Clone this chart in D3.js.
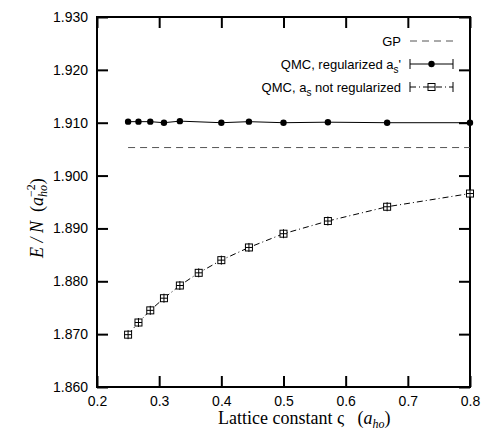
<!DOCTYPE html>
<html>
<head>
<meta charset="utf-8">
<script src="https://cdn.jsdelivr.net/npm/d3@7/dist/d3.min.js"></script>
<style>
  body { margin: 0; background: #fff; }
  text { fill: #000; }
  .tick text { font-family: "Liberation Sans", Arial, sans-serif; font-size: 14px; }
</style>
</head>
<body>
<div id="chart"></div>
<script>
// lattice constant values (a_ho)
var xReg = [0.25, 0.2667, 0.2857, 0.3077, 0.3333, 0.4, 0.4444, 0.5, 0.5714, 0.6667, 0.8]
var yReg = [1.9102, 1.9102, 1.9102, 1.9100, 1.9103, 1.9100, 1.9102, 1.9100, 1.9101, 1.9100, 1.9100]
var xNoReg = [0.25, 0.2667, 0.2857, 0.3077, 0.3333, 0.3636, 0.4, 0.4444, 0.5, 0.5714, 0.6667, 0.8]
var yNoReg = [1.8699, 1.8722, 1.8745, 1.8768, 1.8792, 1.8816, 1.8840, 1.8864, 1.8890, 1.8914, 1.8941, 1.8966]
var gpX = [0.25, 0.8]
var gpY = [1.9053, 1.9053]
var xTicks = [0.2, 0.3, 0.4, 0.5, 0.6, 0.7, 0.8]
var yTicks = [1.860, 1.870, 1.880, 1.890, 1.900, 1.910, 1.920, 1.930]

var width = 487, height = 434
var margin = {top: 17, left: 97, right: 17, bottom: 47}
var w = width - margin.left - margin.right
var h = height - margin.top - margin.bottom

var svg = d3.select("#chart").append("svg")
  .attr("width", width).attr("height", height)
var g = svg.append("g").attr("transform", "translate(" + [margin.left, margin.top] + ")")

var x = d3.scaleLinear().domain([0.2, 0.8]).range([0, w])
var y = d3.scaleLinear().domain([1.860, 1.930]).range([h, 0])

// axes, ticks pointing inward, mirrored on top/right
var xAxis = g.append("g").attr("transform", "translate(0," + h + ")")
  .call(d3.axisBottom(x).tickValues(xTicks).tickFormat(d3.format(".1f")).tickSizeInner(-11).tickSizeOuter(0))
xAxis.selectAll(".tick text").attr("y", 9)
g.append("g")
  .call(d3.axisTop(x).tickValues(xTicks).tickFormat("").tickSizeInner(-11).tickSizeOuter(0))
var yAxis = g.append("g")
  .call(d3.axisLeft(y).tickValues(yTicks).tickFormat(d3.format(".3f")).tickSizeInner(-11).tickSizeOuter(0))
yAxis.selectAll(".tick text").attr("x", -9)
g.append("g").attr("transform", "translate(" + w + ",0)")
  .call(d3.axisRight(y).tickValues(yTicks).tickFormat("").tickSizeInner(-11).tickSizeOuter(0))
g.selectAll(".domain").remove()
g.selectAll(".tick line").attr("stroke", "#000").attr("stroke-width", 2)
g.append("rect").attr("width", w).attr("height", h)
  .attr("fill", "none").attr("stroke", "#000").attr("stroke-width", 2)

var line = d3.line().x(function(d){ return x(d[0]) }).y(function(d){ return y(d[1]) })

// GP
g.append("path").datum(d3.zip(gpX, gpY)).attr("d", line)
  .attr("fill", "none").attr("stroke", "#555").attr("stroke-width", 1).attr("stroke-dasharray", "7,5")

// QMC regularized
var reg = d3.zip(xReg, yReg)
g.append("path").datum(reg).attr("d", line)
  .attr("fill", "none").attr("stroke", "#000").attr("stroke-width", 1)
g.selectAll(".reg").data(reg).enter().append("circle")
  .attr("cx", function(d){ return x(d[0]) }).attr("cy", function(d){ return y(d[1]) })
  .attr("r", 3.2).attr("fill", "#000")

// QMC not regularized
var noreg = d3.zip(xNoReg, yNoReg)
g.append("path").datum(noreg).attr("d", line)
  .attr("fill", "none").attr("stroke", "#000").attr("stroke-width", 1).attr("stroke-dasharray", "6,3,1,3")
var sq = g.selectAll(".noreg").data(noreg).enter().append("g")
  .attr("transform", function(d){ return "translate(" + [x(d[0]), y(d[1])] + ")" })
sq.append("rect").attr("x", -3.5).attr("y", -3.5).attr("width", 7).attr("height", 7)
  .attr("fill", "#fff").attr("stroke", "#000").attr("stroke-width", 1)
sq.append("line").attr("x1", -3.5).attr("x2", 3.5).attr("stroke", "#000").attr("stroke-width", 1)
sq.append("line").attr("y1", -4.5).attr("y2", 4.5).attr("stroke", "#000").attr("stroke-width", 1)

// legend
var legend = svg.append("g").attr("font-family", "Liberation Sans, Arial, sans-serif").attr("font-size", 13)
var lx0 = 410, lx1 = 453
function legText(yy, parts) {
  var t = legend.append("text").attr("x", 401).attr("y", yy + 4.5).attr("text-anchor", "end")
  parts.forEach(function(p){
    var ts = t.append("tspan").text(p.t)
    if (p.sub) ts.attr("font-size", 10).attr("dy", 4)
    if (p.up) ts.attr("dy", -4)
  })
}
legText(41, [{t: "GP"}])
legend.append("line").attr("x1", lx0).attr("x2", lx1).attr("y1", 41).attr("y2", 41)
  .attr("stroke", "#555").attr("stroke-dasharray", "7,5")

legText(64, [{t: "QMC, regularized a"}, {t: "s", sub: true}, {t: "'", up: true}])
legend.append("line").attr("x1", lx0).attr("x2", lx1).attr("y1", 64).attr("y2", 64).attr("stroke", "#000")
legend.append("line").attr("x1", lx0).attr("x2", lx0).attr("y1", 59).attr("y2", 69).attr("stroke", "#000")
legend.append("line").attr("x1", lx1).attr("x2", lx1).attr("y1", 59).attr("y2", 69).attr("stroke", "#000")
legend.append("circle").attr("cx", (lx0 + lx1) / 2).attr("cy", 64).attr("r", 3.2).attr("fill", "#000")

legText(87, [{t: "QMC, a"}, {t: "s", sub: true}, {t: " not regularized", up: true}])
legend.append("line").attr("x1", lx0).attr("x2", lx1).attr("y1", 87).attr("y2", 87)
  .attr("stroke", "#000").attr("stroke-dasharray", "6,3,1,3")
legend.append("line").attr("x1", lx0).attr("x2", lx0).attr("y1", 82).attr("y2", 92).attr("stroke", "#000")
legend.append("line").attr("x1", lx1).attr("x2", lx1).attr("y1", 82).attr("y2", 92).attr("stroke", "#000")
legend.append("rect").attr("x", (lx0 + lx1) / 2 - 3.5).attr("y", 83.5).attr("width", 7).attr("height", 7)
  .attr("fill", "#fff").attr("stroke", "#000")
legend.append("line").attr("x1", (lx0 + lx1) / 2 - 3.5).attr("x2", (lx0 + lx1) / 2 + 3.5)
  .attr("y1", 87).attr("y2", 87).attr("stroke", "#000")

// axis labels
var xl = svg.append("text").attr("x", 218).attr("y", 424)
  .attr("font-family", "Liberation Serif, Times New Roman, serif").attr("font-size", 18)
xl.append("tspan").text("Lattice constant ς\u00a0\u00a0\u00a0(")
xl.append("tspan").attr("font-style", "italic").text("a")
xl.append("tspan").attr("font-style", "italic").attr("font-size", 12).attr("dy", 4).text("ho")
xl.append("tspan").attr("dy", -4).text(")")

var yl = svg.append("text").attr("transform", "translate(43,258) rotate(-90)")
  .attr("font-family", "Liberation Serif, Times New Roman, serif").attr("font-size", 18)
yl.append("tspan").attr("font-style", "italic").text("E / N")
yl.append("tspan").text("\u00a0\u00a0(")
yl.append("tspan").attr("font-style", "italic").text("a")
yl.append("tspan").attr("font-style", "italic").attr("font-size", 12).attr("dy", 4).text("ho")
yl.append("tspan").attr("font-size", 12).attr("dy", -12).attr("dx", -12).text("−2")
yl.append("tspan").attr("dy", 8).text(")")
</script>
</body>
</html>
